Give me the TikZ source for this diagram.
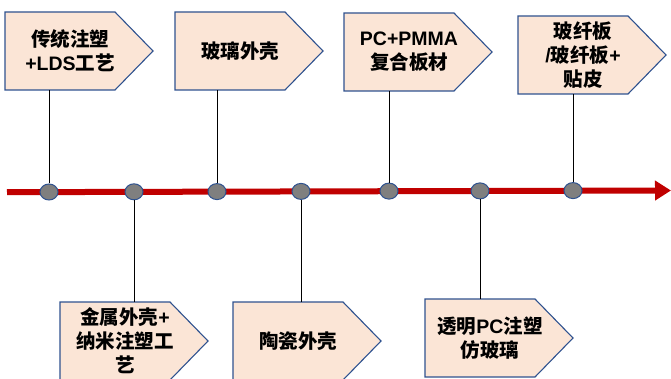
\documentclass[tikz,border=0pt]{standalone}
\usepackage{fontspec}
\setmainfont{Liberation Sans}
\newfontfamily\cjk{Noto Sans CJK SC}
\usetikzlibrary{shapes.geometric,arrows.meta}
\newcommand\zh[1]{{\cjk\bfseries #1}}
\definecolor{boxfill}{HTML}{FBE5D6}
\definecolor{boxline}{HTML}{2F528F}
\definecolor{tlred}{HTML}{C00000}
\definecolor{dotfill}{HTML}{7F7F7F}
\tikzset{
  boxrect/.style={rectangle, minimum width=110pt, minimum height=78pt, inner sep=0pt, outer sep=0pt},
  boxshape/.style={fill=boxfill, draw=boxline, line width=1.1pt, line join=miter},
  boxtext/.style={align=center, inner sep=0pt, font=\bfseries\fontsize{19.5}{24}\selectfont},
  dot/.style={ellipse, minimum width=18pt, minimum height=16pt, inner sep=0pt, fill=dotfill, draw=boxline, line width=1pt},
  conn/.style={draw=black, line width=0.8pt},
  timeline/.style={draw=tlred, line width=6pt, -{Triangle[length=16pt 0, width=19pt 0]}}
}
\newcommand\tlbox[4]{%
  \node[boxrect] (#1) at (#2+55, -#3-39) {};
  \path[boxshape] (#1.north west) -- (#1.north east) -- ([xshift=38pt]#1.east) -- (#1.south east) -- (#1.south west) -- cycle;
  \node[boxtext] (#1t) at ([xshift=10pt]#1.center) {#4};
}
\begin{document}
\begin{tikzpicture}[x=1pt,y=1pt]
\useasboundingbox (0,0) rectangle (671,-379);
% timeline
\coordinate (ls) at (7,-192.2);
\coordinate (le) at (671,-190.5);
\draw[timeline] (ls) -- (le);
% boxes
\tlbox{b1}{5}{12}{\zh{传统注塑}\\+LDS\zh{工艺}}
\tlbox{b2}{175}{12}{\zh{玻璃外壳}}
\tlbox{b3}{344}{13}{PC+PMMA\\\zh{复合板材}}
\tlbox{b4}{518}{16}{\zh{玻纤板}\\/\zh{玻纤板}+\\\zh{贴皮}}
\tlbox{b5}{60}{302}{\zh{金属外壳}+\\\zh{纳米注塑工}\\\zh{艺}}
\tlbox{b6}{233}{302}{\zh{陶瓷外壳}}
\tlbox{b7}{425}{299}{\zh{透明}PC\zh{注塑}\\\zh{仿玻璃}}
% dots
\node[dot] (c1) at (49,-192) {};
\node[dot] (c2) at (134,-191.8) {};
\node[dot] (c3) at (217,-191.6) {};
\node[dot] (c4) at (301,-191.4) {};
\node[dot] (c5) at (389,-191.1) {};
\node[dot] (c6) at (480,-190.9) {};
\node[dot] (c7) at (573,-190.6) {};
% connectors
\draw[conn] (c1) -- (c1 |- b1.south);
\draw[conn] (c3) -- (c3 |- b2.south);
\draw[conn] (c5) -- (c5 |- b3.south);
\draw[conn] (c7) -- (c7 |- b4.south);
\draw[conn] (c2) -- (c2 |- b5.north);
\draw[conn] (c4) -- (c4 |- b6.north);
\draw[conn] (c6) -- (c6 |- b7.north);
\end{tikzpicture}
\end{document}
